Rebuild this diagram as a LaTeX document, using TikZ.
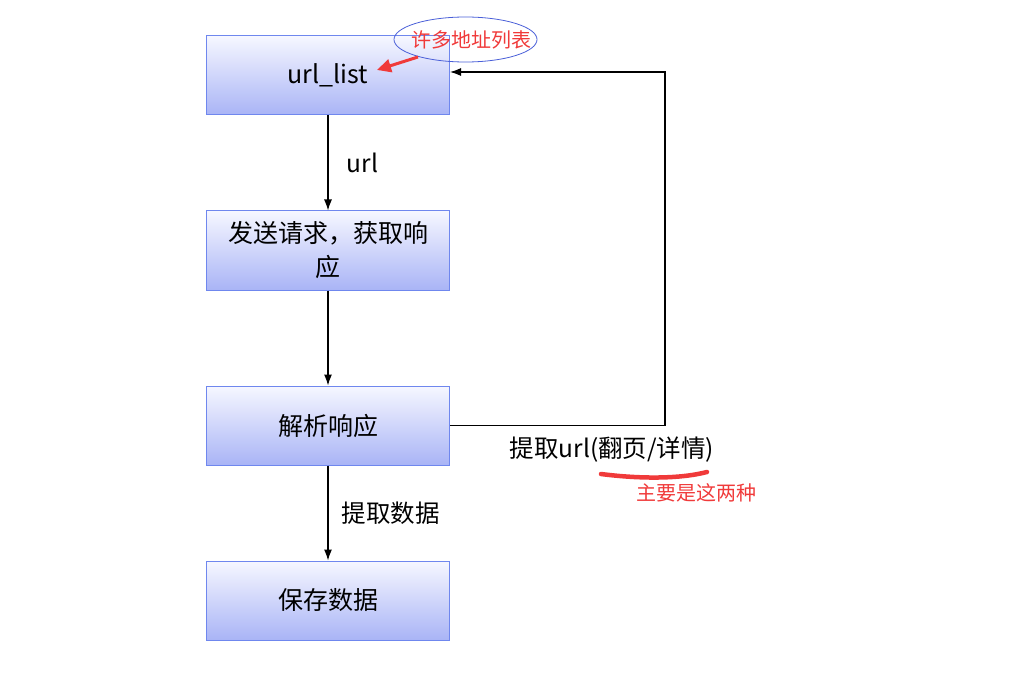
\documentclass[tikz,border=0pt]{standalone}
\usepackage{fontspec}
\setmainfont{Noto Sans CJK SC}
\usetikzlibrary{arrows.meta,shapes.geometric}
\definecolor{boxtop}{HTML}{F6F7FF}
\definecolor{boxbot}{HTML}{A9B4F6}
\definecolor{boxline}{HTML}{6F87EE}
\definecolor{notered}{HTML}{F03A3A}
\definecolor{noteblue}{HTML}{4A5FD8}
\begin{document}
\begin{tikzpicture}[x=1pt,y=-1pt,
    stepbox/.style={rectangle, draw=boxline, line width=1pt, top color=boxtop, bottom color=boxbot,
      minimum width=243pt, minimum height=79pt, inner sep=0pt, align=center,
      font=\fontsize{25}{34}\selectfont},
    flow/.style={-{Latex[length=11pt,width=8pt]}, line width=1.2pt},
    lbl/.style={font=\fontsize{24.5}{28}\selectfont},
    note/.style={text=notered, font=\fontsize{20}{24}\selectfont}]
        \useasboundingbox (0,0) rectangle (1025,679);

        % Steps
        \node at (328, 75.5) (list) [stepbox] {url\_list};
        \node at (328, 250.5) (send) [stepbox] {发送请求，获取响\\应};
        \node at (328, 425.5) (parse) [stepbox] {解析响应};
        \node at (328, 600.5) (save) [stepbox] {保存数据};

        % Edges
        \draw[flow] (list) -- (send) node[midway, right=15pt, lbl] {url};
        \draw[flow] (send) -- (parse);
        \draw[flow] (parse) -- (save) node[midway, right=10pt, lbl] {提取数据};
        \draw[flow] (parse.east) -- ++(215,0) |- ([yshift=3.5pt]list.east);
        \node at (612, 450) (geturl) [lbl] {提取url(翻页/详情)};

        % Notes
        \node at (465.5, 39.5) (many) [ellipse, draw=noteblue, line width=0.8pt,
          minimum width=143pt, minimum height=45pt, inner sep=0pt, note] {\makebox[0pt]{\hspace{11pt}许多地址列表}};
        \coordinate (manyfoot) at (418, 57);
        \coordinate (listend) at (377, 70);
        \draw[notered, line width=3pt, -{Triangle[length=14pt,width=13pt]}] (manyfoot) -- (listend);
        \draw[notered, line width=4.5pt, line cap=round]
          (601, 474) .. controls (640, 479) and (680, 479) .. (707, 472);
        \node at (696, 493) (twokinds) [note] {主要是这两种};
\end{tikzpicture}
\end{document}
